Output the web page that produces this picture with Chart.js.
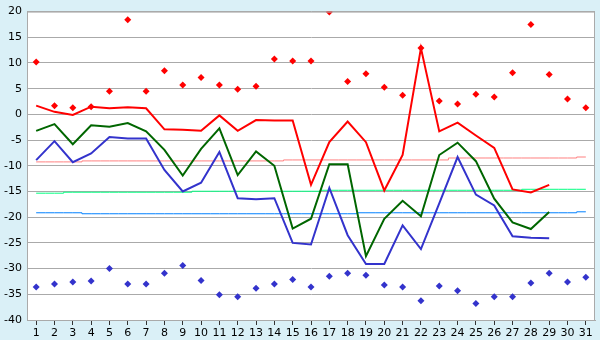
<!DOCTYPE html>
<html>
<head>
<meta charset="utf-8">
<script src="https://cdn.jsdelivr.net/npm/chart.js@4"></script>
<style>
  html, body { margin: 0; padding: 0; background: #daf0f7; }
  #wrap { width: 600px; height: 340px; }
</style>
</head>
<body>
<div id="wrap"><canvas id="chart" width="600" height="340"></canvas></div>
<script>
const days = Array.from({ length: 31 }, (_, i) => String(i + 1))

// record highs / lows (diamonds)
const recordMax = [10.2, 1.7, 1.3, 1.5, 4.5, 18.4, 4.5, 8.5, 5.7, 7.2, 5.7, 4.9, 5.5, 10.8, 10.4, 10.4,
    19.9, 6.4, 7.9, 5.3, 3.75, 12.9, 2.6, 2.0, 3.9, 3.4, 8.1, 17.5, 7.75, 3.0, 1.3]
const recordMin = [-33.6, -33.0, -32.6, -32.4, -30.0, -33.0, -33.0, -30.9, -29.4, -32.3, -35.1, -35.5, -33.8,
    -33.0, -32.1, -33.6, -31.5, -30.9, -31.3, -33.2, -33.6, -36.25, -33.4, -34.3, -36.8, -35.5, -35.5, -32.8,
    -30.9, -32.6, -31.7]

// daily max / mean / min
const dayMax = [1.7, 0.5, -0.1, 1.5, 1.2, 1.4, 1.2, -2.9, -3.0, -3.2, -0.2, -3.2, -1.1, -1.2, -1.2, -13.7,
    -5.4, -1.4, -5.4, -14.8, -7.9, 12.9, -3.3, -1.6, -4.1, -6.5, -14.6, -15.2, -13.7, null, null]
const dayMean = [-3.2, -1.9, -5.8, -2.1, -2.4, -1.7, -3.3, -6.9, -11.9, -6.7, -2.7, -11.8, -7.2, -10.0, -22.2,
    -20.3, -9.7, -9.7, -27.6, -20.3, -16.8, -19.8, -7.9, -5.5, -9.1, -16.4, -21.0, -22.3, -19.0, null, null]
const dayMin = [-8.9, -5.2, -9.3, -7.6, -4.4, -4.7, -4.7, -10.8, -15.0, -13.3, -7.3, -16.3, -16.5, -16.3, -25.0,
    -25.3, -14.3, -23.5, -29.1, -29.1, -21.6, -26.2, -17.3, -8.3, -15.6, -17.7, -23.7, -24.0, -24.1, null, null]

// normals
const normMax = [-9.24, -9.24, -9.24, -9.05, -9.05, -9.05, -9.05, -9.05, -9.05, -9.05, -9.05, -9.05, -9.05, -9.05,
    -8.86, -8.86, -8.86, -8.86, -8.86, -8.86, -8.86, -8.86, -8.86, -8.48, -8.48, -8.48, -8.48, -8.48, -8.48, -8.48, -8.29]
const normMean = [-15.33, -15.33, -15.14, -15.14, -15.14, -15.14, -15.14, -15.14, -15.14, -14.95, -14.95, -14.95,
    -14.95, -14.95, -14.95, -14.95, -14.76, -14.76, -14.76, -14.76, -14.76, -14.76, -14.76, -14.76, -14.76, -14.76,
    -14.76, -14.57, -14.57, -14.57, -14.57]
const normMin = [-19.14, -19.14, -19.14, -19.33, -19.33, -19.33, -19.33, -19.33, -19.33, -19.33, -19.33, -19.33,
    -19.33, -19.33, -19.33, -19.33, -19.33, -19.33, -19.14, -19.14, -19.14, -19.14, -19.14, -19.14, -19.14, -19.14,
    -19.14, -19.14, -19.14, -19.14, -18.95]

const yMin = -40, yMax = 20, yStep = 5

Chart.defaults.font.family = 'DejaVu Sans'
Chart.defaults.font.size = 11
Chart.defaults.color = '#000'

const background = {
    id: 'background',
    beforeDraw(chart) {
        const { ctx, chartArea: a } = chart
        ctx.save()
        ctx.fillStyle = '#daf0f7'
        ctx.fillRect(0, 0, chart.width, chart.height)
        ctx.fillStyle = '#fff'
        ctx.fillRect(a.left, a.top, a.right - a.left, a.bottom - a.top)
        ctx.restore()
    },
    afterDatasetsDraw(chart) {
        const { ctx, chartArea: a } = chart
        ctx.save()
        ctx.strokeStyle = '#aaa'
        ctx.lineWidth = 1
        ctx.strokeRect(a.left + 0.5, a.top + 0.5, a.right - a.left - 1, a.bottom - a.top)
        ctx.restore()
    }
}

const line = (data, color, width, order, extra) => Object.assign({
    type: 'line', data, borderColor: color, backgroundColor: color, borderWidth: width,
    pointRadius: 0, tension: 0, spanGaps: false, order
}, extra || {})

const dots = (data, color, order) => ({
    type: 'line', data, showLine: false, pointStyle: 'rectRot', pointRadius: 3.5,
    pointBackgroundColor: color, pointBorderColor: color, pointBorderWidth: 0, order
})

new Chart(document.getElementById('chart'), {
    type: 'line',
    data: {
        labels: days,
        datasets: [
            line(normMax, '#ff8080', 1, 9, { stepped: 'middle' }),
            line(normMean, '#00ff80', 1, 8, { stepped: 'middle' }),
            line(normMin, '#0080ff', 1, 7, { stepped: 'middle' }),
            line(dayMin, '#3333cc', 2, 5),
            line(dayMean, '#006600', 2, 4),
            line(dayMax, '#ff0000', 2, 3),
            dots(recordMin, '#3333cc', 2),
            dots(recordMax, '#ff0000', 1)
        ]
    },
    options: {
        responsive: false,
        animation: false,
        events: [],
        layout: { padding: { top: 5, right: 5, left: 0, bottom: 0 } },
        plugins: { legend: { display: false }, tooltip: { enabled: false } },
        scales: {
            x: {
                offset: true,
                grid: { offset: false, drawOnChartArea: false, drawTicks: true, tickLength: 5, color: '#333' },
                border: { color: '#aaa' },
                ticks: { maxRotation: 0, autoSkip: false, padding: 2 },
                afterFit(scale) { scale.height = 20 }
            },
            y: {
                min: yMin, max: yMax,
                grid: { color: '#aaa', drawTicks: false },
                border: { color: '#aaa' },
                ticks: { stepSize: yStep, padding: 5 },
                afterFit(scale) { scale.width = 27 }
            }
        }
    },
    plugins: [background]
})
</script>
</body>
</html>
